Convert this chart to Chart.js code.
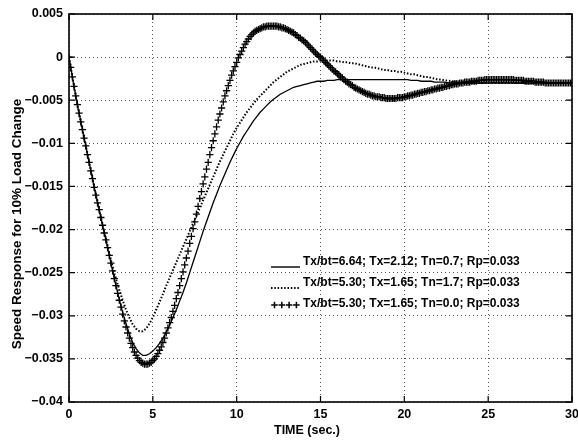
<!DOCTYPE html>
<html>
<head>
<meta charset="utf-8">
<script src="https://cdn.jsdelivr.net/npm/chart.js@4.4.1/dist/chart.umd.min.js"></script>
<style>
  html, body { margin: 0; padding: 0; background: #fff; }
  canvas { display: block; }
</style>
</head>
<body>
<canvas id="speedChart" width="578" height="441"></canvas>
<script>
// time axis for the two line curves, seconds
const times = [
  0, 0.2, 0.4, 0.6, 0.8, 1, 1.2, 1.4, 1.6, 1.8,
  2, 2.2, 2.4, 2.6, 2.8, 3, 3.2, 3.4, 3.6, 3.8,
  4, 4.2, 4.4, 4.6, 4.8, 5, 5.2, 5.4, 5.6, 5.8,
  6, 6.2, 6.4, 6.6, 6.8, 7, 7.2, 7.4, 7.6, 7.8,
  8, 8.2, 8.4, 8.6, 8.8, 9, 9.2, 9.4, 9.6, 9.8,
  10, 10.2, 10.4, 10.6, 10.8, 11, 11.2, 11.4, 11.6, 11.8,
  12, 12.2, 12.4, 12.6, 12.8, 13, 13.2, 13.4, 13.6, 13.8,
  14, 14.2, 14.4, 14.6, 14.8, 15, 15.2, 15.4, 15.6, 15.8,
  16, 16.2, 16.4, 16.6, 16.8, 17, 17.2, 17.4, 17.6, 17.8,
  18, 18.2, 18.4, 18.6, 18.8, 19, 19.2, 19.4, 19.6, 19.8,
  20, 20.2, 20.4, 20.6, 20.8, 21, 21.2, 21.4, 21.6, 21.8,
  22, 22.2, 22.4, 22.6, 22.8, 23, 23.2, 23.4, 23.6, 23.8,
  24, 24.2, 24.4, 24.6, 24.8, 25, 25.2, 25.4, 25.6, 25.8,
  26, 26.2, 26.4, 26.6, 26.8, 27, 27.2, 27.4, 27.6, 27.8,
  28, 28.2, 28.4, 28.6, 28.8, 29, 29.2, 29.4, 29.6, 29.8,
  30
];

// Tx/bt=6.64; Tx=2.12; Tn=0.7 (solid)
const speedTn07 = [
  0, -0.0023, -0.0045, -0.0065, -0.0084, -0.0103, -0.0122, -0.0141, -0.0160, -0.0177,
  -0.0195, -0.0212, -0.0230, -0.0248, -0.0265, -0.0281, -0.0296, -0.0309, -0.0321, -0.0331,
  -0.0338, -0.0343, -0.0346, -0.0346, -0.0344, -0.0341, -0.0337, -0.0332, -0.0326, -0.0319,
  -0.0311, -0.0302, -0.0293, -0.0283, -0.0273, -0.0262, -0.0250, -0.0238, -0.0226, -0.0214,
  -0.0202, -0.0191, -0.0180, -0.0169, -0.0159, -0.0149, -0.0140, -0.0131, -0.0122, -0.0114,
  -0.0106, -0.0099, -0.0092, -0.0086, -0.0080, -0.0074, -0.0069, -0.0064, -0.0060, -0.0056,
  -0.0052, -0.0049, -0.0046, -0.0043, -0.0041, -0.0039, -0.0037, -0.0035, -0.0034, -0.0033,
  -0.0032, -0.0031, -0.0030, -0.0029, -0.0028, -0.0028, -0.0028, -0.0027, -0.0027, -0.0027,
  -0.0026, -0.0026, -0.0026, -0.0026, -0.0026, -0.0026, -0.0026, -0.0026, -0.0026, -0.0026,
  -0.0026, -0.0026, -0.0026, -0.0026, -0.0026, -0.0026, -0.0026, -0.0026, -0.0026, -0.0026,
  -0.0026, -0.0026, -0.0027, -0.0027, -0.0027, -0.0028, -0.0028, -0.0028, -0.0028, -0.0029,
  -0.0029, -0.0029, -0.0029, -0.0030, -0.0030, -0.0030, -0.0030, -0.0030, -0.0030, -0.0030,
  -0.0030, -0.0030, -0.0030, -0.0030, -0.0030, -0.0030, -0.0030, -0.0030, -0.0030, -0.0030,
  -0.0030, -0.0030, -0.0030, -0.0030, -0.0030, -0.0030, -0.0030, -0.0030, -0.0030, -0.0030,
  -0.0030, -0.0030, -0.0030, -0.0030, -0.0030, -0.0030, -0.0030, -0.0030, -0.0030, -0.0030,
  -0.0030
];

// Tx/bt=5.30; Tx=1.65; Tn=1.7 (dotted)
const speedTn17 = [
  0, -0.0023, -0.0045, -0.0065, -0.0084, -0.0103, -0.0122, -0.0141, -0.0159, -0.0177,
  -0.0195, -0.0211, -0.0227, -0.0243, -0.0257, -0.0270, -0.0282, -0.0293, -0.0302, -0.0310,
  -0.0315, -0.0318, -0.0318, -0.0315, -0.0309, -0.0302, -0.0293, -0.0284, -0.0275, -0.0265,
  -0.0256, -0.0247, -0.0238, -0.0229, -0.0220, -0.0211, -0.0202, -0.0193, -0.0184, -0.0175,
  -0.0166, -0.0157, -0.0148, -0.0139, -0.0130, -0.0121, -0.0113, -0.0105, -0.0097, -0.0089,
  -0.0082, -0.0076, -0.0070, -0.0064, -0.0059, -0.0054, -0.0049, -0.0045, -0.0041, -0.0037,
  -0.0033, -0.0029, -0.0026, -0.0023, -0.0020, -0.0017, -0.0015, -0.0013, -0.0011, -0.0009,
  -0.0008, -0.0007, -0.0006, -0.0005, -0.0005, -0.0004, -0.0004, -0.0004, -0.0004, -0.0004,
  -0.0005, -0.0005, -0.0006, -0.0006, -0.0007, -0.0007, -0.0008, -0.0009, -0.0010, -0.0011,
  -0.0012, -0.0012, -0.0013, -0.0014, -0.0015, -0.0015, -0.0016, -0.0016, -0.0017, -0.0017,
  -0.0018, -0.0019, -0.0020, -0.0020, -0.0021, -0.0022, -0.0023, -0.0023, -0.0024, -0.0025,
  -0.0026, -0.0026, -0.0027, -0.0027, -0.0028, -0.0028, -0.0029, -0.0029, -0.0030, -0.0030,
  -0.0030, -0.0030, -0.0030, -0.0030, -0.0030, -0.0030, -0.0030, -0.0030, -0.0030, -0.0030,
  -0.0030, -0.0030, -0.0030, -0.0030, -0.0030, -0.0030, -0.0030, -0.0030, -0.0030, -0.0030,
  -0.0030, -0.0030, -0.0030, -0.0030, -0.0030, -0.0030, -0.0030, -0.0030, -0.0030, -0.0030,
  -0.0030
];

// the marker curve was plotted at a finer step, seconds
const plusTimes = [
  0, 0.1, 0.2, 0.3, 0.4, 0.5, 0.6, 0.7, 0.8, 0.9,
  1, 1.1, 1.2, 1.3, 1.4, 1.5, 1.6, 1.7, 1.8, 1.9,
  2, 2.1, 2.2, 2.3, 2.4, 2.5, 2.6, 2.7, 2.8, 2.9,
  3, 3.1, 3.2, 3.3, 3.4, 3.5, 3.6, 3.7, 3.8, 3.9,
  4, 4.1, 4.2, 4.3, 4.4, 4.5, 4.6, 4.7, 4.8, 4.9,
  5, 5.1, 5.2, 5.3, 5.4, 5.5, 5.6, 5.7, 5.8, 5.9,
  6, 6.1, 6.2, 6.3, 6.4, 6.5, 6.6, 6.7, 6.8, 6.9,
  7, 7.1, 7.2, 7.3, 7.4, 7.5, 7.6, 7.7, 7.8, 7.9,
  8, 8.1, 8.2, 8.3, 8.4, 8.5, 8.6, 8.7, 8.8, 8.9,
  9, 9.1, 9.2, 9.3, 9.4, 9.5, 9.6, 9.7, 9.8, 9.9,
  10, 10.1, 10.2, 10.3, 10.4, 10.5, 10.6, 10.7, 10.8, 10.9,
  11, 11.1, 11.2, 11.3, 11.4, 11.5, 11.6, 11.7, 11.8, 11.9,
  12, 12.1, 12.2, 12.3, 12.4, 12.5, 12.6, 12.7, 12.8, 12.9,
  13, 13.1, 13.2, 13.3, 13.4, 13.5, 13.6, 13.7, 13.8, 13.9,
  14, 14.1, 14.2, 14.3, 14.4, 14.5, 14.6, 14.7, 14.8, 14.9,
  15, 15.1, 15.2, 15.3, 15.4, 15.5, 15.6, 15.7, 15.8, 15.9,
  16, 16.1, 16.2, 16.3, 16.4, 16.5, 16.6, 16.7, 16.8, 16.9,
  17, 17.1, 17.2, 17.3, 17.4, 17.5, 17.6, 17.7, 17.8, 17.9,
  18, 18.1, 18.2, 18.3, 18.4, 18.5, 18.6, 18.7, 18.8, 18.9,
  19, 19.1, 19.2, 19.3, 19.4, 19.5, 19.6, 19.7, 19.8, 19.9,
  20, 20.1, 20.2, 20.3, 20.4, 20.5, 20.6, 20.7, 20.8, 20.9,
  21, 21.1, 21.2, 21.3, 21.4, 21.5, 21.6, 21.7, 21.8, 21.9,
  22, 22.1, 22.2, 22.3, 22.4, 22.5, 22.6, 22.7, 22.8, 22.9,
  23, 23.1, 23.2, 23.3, 23.4, 23.5, 23.6, 23.7, 23.8, 23.9,
  24, 24.1, 24.2, 24.3, 24.4, 24.5, 24.6, 24.7, 24.8, 24.9,
  25, 25.1, 25.2, 25.3, 25.4, 25.5, 25.6, 25.7, 25.8, 25.9,
  26, 26.1, 26.2, 26.3, 26.4, 26.5, 26.6, 26.7, 26.8, 26.9,
  27, 27.1, 27.2, 27.3, 27.4, 27.5, 27.6, 27.7, 27.8, 27.9,
  28, 28.1, 28.2, 28.3, 28.4, 28.5, 28.6, 28.7, 28.8, 28.9,
  29, 29.1, 29.2, 29.3, 29.4, 29.5, 29.6, 29.7, 29.8, 29.9,
  30
];

// Tx/bt=5.30; Tx=1.65; Tn=0.0 (plus markers)
const speedTn00 = [
  0, -0.0012, -0.0023, -0.0034, -0.0045, -0.0055, -0.0065, -0.0075, -0.0084, -0.0094,
  -0.0103, -0.0113, -0.0122, -0.0132, -0.0141, -0.0151, -0.0160, -0.0169, -0.0177, -0.0186,
  -0.0195, -0.0204, -0.0212, -0.0221, -0.0230, -0.0239, -0.0248, -0.0257, -0.0265, -0.0274,
  -0.0282, -0.0290, -0.0298, -0.0306, -0.0313, -0.0320, -0.0326, -0.0332, -0.0337, -0.0342,
  -0.0346, -0.0349, -0.0352, -0.0354, -0.0355, -0.0356, -0.0356, -0.0356, -0.0355, -0.0354,
  -0.0352, -0.0350, -0.0347, -0.0344, -0.0340, -0.0336, -0.0331, -0.0326, -0.0320, -0.0314,
  -0.0308, -0.0302, -0.0295, -0.0288, -0.0280, -0.0273, -0.0265, -0.0257, -0.0249, -0.0241,
  -0.0233, -0.0225, -0.0216, -0.0208, -0.0199, -0.0191, -0.0182, -0.0173, -0.0164, -0.0156,
  -0.0147, -0.0139, -0.0130, -0.0122, -0.0113, -0.0105, -0.0097, -0.0089, -0.0081, -0.0073,
  -0.0066, -0.0059, -0.0052, -0.0045, -0.0039, -0.0033, -0.0027, -0.0021, -0.0016, -0.0011,
  -0.0006, -0.0001, 0.0003, 0.0007, 0.0011, 0.0015, 0.0018, 0.0021, 0.0024, 0.0026,
  0.0028, 0.0030, 0.0031, 0.0032, 0.0033, 0.0034, 0.0035, 0.0035, 0.0036, 0.0036,
  0.0036, 0.0036, 0.0036, 0.0036, 0.0036, 0.0035, 0.0035, 0.0034, 0.0034, 0.0033,
  0.0032, 0.0031, 0.0030, 0.0029, 0.0028, 0.0026, 0.0025, 0.0023, 0.0022, 0.0020,
  0.0019, 0.0017, 0.0015, 0.0013, 0.0011, 0.0009, 0.0007, 0.0005, 0.0003, 0.0001,
  0.0000, -0.0002, -0.0004, -0.0006, -0.0008, -0.0010, -0.0012, -0.0014, -0.0016, -0.0017,
  -0.0019, -0.0021, -0.0023, -0.0024, -0.0026, -0.0028, -0.0029, -0.0031, -0.0032, -0.0033,
  -0.0035, -0.0036, -0.0037, -0.0038, -0.0039, -0.0040, -0.0041, -0.0042, -0.0043, -0.0043,
  -0.0044, -0.0045, -0.0045, -0.0046, -0.0046, -0.0046, -0.0047, -0.0047, -0.0047, -0.0048,
  -0.0048, -0.0048, -0.0048, -0.0048, -0.0048, -0.0048, -0.0047, -0.0047, -0.0047, -0.0047,
  -0.0046, -0.0046, -0.0045, -0.0045, -0.0044, -0.0044, -0.0043, -0.0043, -0.0042, -0.0042,
  -0.0041, -0.0041, -0.0040, -0.0040, -0.0039, -0.0039, -0.0038, -0.0038, -0.0037, -0.0037,
  -0.0036, -0.0036, -0.0035, -0.0035, -0.0034, -0.0034, -0.0033, -0.0033, -0.0032, -0.0032,
  -0.0031, -0.0031, -0.0031, -0.0030, -0.0030, -0.0030, -0.0029, -0.0029, -0.0029, -0.0029,
  -0.0028, -0.0028, -0.0028, -0.0028, -0.0027, -0.0027, -0.0027, -0.0027, -0.0026, -0.0026,
  -0.0026, -0.0026, -0.0026, -0.0026, -0.0026, -0.0026, -0.0026, -0.0026, -0.0026, -0.0026,
  -0.0026, -0.0026, -0.0026, -0.0026, -0.0026, -0.0026, -0.0027, -0.0027, -0.0027, -0.0027,
  -0.0027, -0.0027, -0.0028, -0.0028, -0.0028, -0.0028, -0.0028, -0.0028, -0.0029, -0.0029,
  -0.0029, -0.0029, -0.0029, -0.0029, -0.0030, -0.0030, -0.0030, -0.0030, -0.0030, -0.0030,
  -0.0030, -0.0030, -0.0030, -0.0030, -0.0030, -0.0030, -0.0030, -0.0030, -0.0030, -0.0030,
  -0.0030
];

const xTicks = [0, 5, 10, 15, 20, 25, 30];
const yTicks = [0.005, 0, -0.005, -0.01, -0.015, -0.02, -0.025, -0.03, -0.035, -0.04];

const legendLabels = [
  'Tx/bt=6.64; Tx=2.12; Tn=0.7; Rp=0.033',
  'Tx/bt=5.30; Tx=1.65; Tn=1.7; Rp=0.033',
  'Tx/bt=5.30; Tx=1.65; Tn=0.0; Rp=0.033'
];
const xTitle = 'TIME (sec.)';
const yTitle = 'Speed Response for 10% Load Change';

const fontFamily = '"Liberation Sans", Arial, Helvetica, sans-serif';

function toPoints(xs, values) {
  return xs.map((t, i) => ({ x: t, y: values[i] }));
}

function yLabel(v) {
  const s = parseFloat(Number(v).toFixed(3)).toString();
  return s.replace('-', '\u2212');
}

// box, inward ticks, legend and axis titles, drawn like the old matlab print
const matlabFrame = {
  id: 'matlabFrame',
  afterDraw(chart) {
    const { ctx, chartArea: a, scales: { x, y } } = chart;
    ctx.save();
    ctx.strokeStyle = '#000';
    ctx.fillStyle = '#000';

    ctx.lineWidth = 1.6;
    ctx.strokeRect(a.left, a.top, a.right - a.left, a.bottom - a.top);

    ctx.lineWidth = 1.2;
    ctx.beginPath();
    xTicks.forEach(v => {
      const px = x.getPixelForValue(v);
      ctx.moveTo(px, a.bottom); ctx.lineTo(px, a.bottom - 6);
      ctx.moveTo(px, a.top); ctx.lineTo(px, a.top + 6);
    });
    yTicks.forEach(v => {
      const py = y.getPixelForValue(v);
      ctx.moveTo(a.left, py); ctx.lineTo(a.left + 6, py);
      ctx.moveTo(a.right, py); ctx.lineTo(a.right - 6, py);
    });
    ctx.stroke();

    // legend
    const rows = [262, 283, 304];
    const sx0 = 271, sx1 = 300, tx = 303;
    ctx.font = 'bold 12px ' + fontFamily;
    ctx.textAlign = 'left';
    ctx.textBaseline = 'middle';
    legendLabels.forEach((txt, i) => ctx.fillText(txt, tx, rows[i]));

    ctx.lineWidth = 1.4;
    ctx.beginPath();
    ctx.moveTo(sx0, rows[0] + 5); ctx.lineTo(sx1, rows[0] + 5);
    ctx.stroke();

    ctx.lineWidth = 2;
    ctx.setLineDash([1.5, 1.8]);
    ctx.beginPath();
    ctx.moveTo(sx0, rows[1] + 5); ctx.lineTo(sx1, rows[1] + 5);
    ctx.stroke();
    ctx.setLineDash([]);

    ctx.lineWidth = 1.5;
    ctx.beginPath();
    for (let k = 0; k < 4; k++) {
      const cx = sx0 + 3.5 + k * 7.3, cy = rows[2] + 1;
      ctx.moveTo(cx - 3.3, cy); ctx.lineTo(cx + 3.3, cy);
      ctx.moveTo(cx, cy - 3.3); ctx.lineTo(cx, cy + 3.3);
    }
    ctx.stroke();

    // axis titles
    ctx.font = 'bold 12.5px ' + fontFamily;
    ctx.textAlign = 'center';
    ctx.textBaseline = 'middle';
    ctx.fillText(xTitle, 307, 431);

    ctx.font = 'bold 13.5px ' + fontFamily;
    ctx.translate(17, 224);
    ctx.rotate(-Math.PI / 2);
    ctx.fillText(yTitle, 0, 0);
    ctx.restore();
  }
};

new Chart(document.getElementById('speedChart'), {
  type: 'line',
  data: {
    datasets: [
      {
        label: legendLabels[0],
        data: toPoints(times, speedTn07),
        borderColor: '#000',
        borderWidth: 1.3,
        pointRadius: 0,
        fill: false
      },
      {
        label: legendLabels[1],
        data: toPoints(times, speedTn17),
        borderColor: '#000',
        borderWidth: 2,
        borderDash: [1.5, 1.8],
        pointRadius: 0,
        fill: false
      },
      {
        label: legendLabels[2],
        data: toPoints(plusTimes, speedTn00),
        showLine: false,
        borderColor: '#000',
        pointStyle: 'cross',
        pointRadius: 3.6,
        pointBorderWidth: 1.3,
        pointBorderColor: '#000',
        fill: false
      }
    ]
  },
  options: {
    responsive: false,
    animation: false,
    layout: { padding: { top: 14, right: 6, left: 0, bottom: 0 } },
    plugins: {
      legend: { display: false },
      tooltip: { enabled: false }
    },
    elements: { line: { tension: 0 } },
    scales: {
      x: {
        type: 'linear',
        min: 0,
        max: 30,
        afterBuildTicks: s => { s.ticks = xTicks.map(v => ({ value: v })); },
        afterFit: s => { s.height = 39; s.paddingLeft = 0; s.paddingRight = 0; },
        grid: { color: '#555', lineWidth: 1, drawTicks: false },
        border: { display: false, dash: [1, 3] },
        ticks: {
          color: '#000',
          padding: 5,
          maxRotation: 0,
          autoSkip: false,
          font: { family: fontFamily, size: 12.5, weight: 'bold' },
          callback: v => String(v)
        }
      },
      y: {
        type: 'linear',
        min: -0.04,
        max: 0.005,
        afterBuildTicks: s => { s.ticks = yTicks.map(v => ({ value: v })); },
        afterFit: s => { s.width = 69; s.paddingTop = 0; s.paddingBottom = 0; },
        grid: { color: '#555', lineWidth: 1, drawTicks: false },
        border: { display: false, dash: [1, 3] },
        ticks: {
          color: '#000',
          padding: 6,
          autoSkip: false,
          font: { family: fontFamily, size: 12.5, weight: 'bold' },
          callback: v => yLabel(v)
        }
      }
    }
  },
  plugins: [matlabFrame]
});
</script>
</body>
</html>
